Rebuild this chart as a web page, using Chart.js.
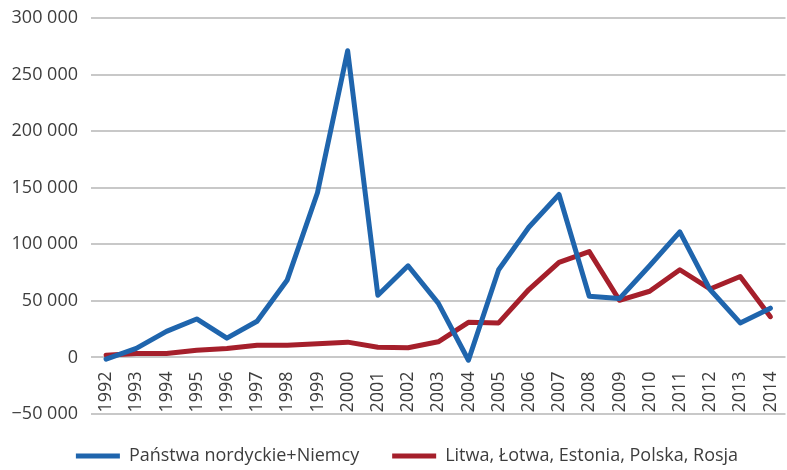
<!DOCTYPE html>
<html>
<head>
<meta charset="utf-8">
<script src="https://cdn.jsdelivr.net/npm/chart.js@4"></script>
<style>
  html, body { margin: 0; padding: 0; background: #fff; overflow: hidden; }
  #wrap { width: 798px; height: 470px; position: relative; }
</style>
</head>
<body>
<div id="wrap"><canvas id="chart"></canvas></div>
<script>
const years = ["1992", "1993", "1994", "1995", "1996", "1997", "1998", "1999", "2000", "2001", "2002", "2003",
  "2004", "2005", "2006", "2007", "2008", "2009", "2010", "2011", "2012", "2013", "2014"];

const nordicData = [-1500, 8000, 23000, 34000, 17000, 32000, 68500, 145500, 271000, 55000, 81000, 48000,
  -2500, 77500, 115000, 144000, 54000, 52000, 81000, 111000, 60000, 30500, 43500];

const balticData = [2000, 3400, 3400, 6400, 7800, 10800, 10800, 12000, 13500, 9000, 8500, 13800,
  31000, 30500, 60000, 84000, 93500, 50500, 58500, 77500, 60500, 71500, 36000];

const nordicLabel = "Państwa nordyckie+Niemcy";
const balticLabel = "Litwa, Łotwa, Estonia, Polska, Rosja";

const textColor = "#3d3d3d";

function fmtThousands(v) {
  const s = Math.abs(v).toString().replace(/\B(?=(\d{3})+(?!\d))/g, " ");
  return (v < 0 ? "\u2212" : "") + s;
}

// legenda: stała wysokość i lekkie przesunięcie w prawo
const legendTweak = {
  id: "legendTweak",
  beforeLayout(chart) {
    const lg = chart.legend;
    if (lg && !lg._patched) {
      const fit = lg.fit;
      lg.fit = function () {
        fit.call(this);
        this.height = 56;
      };
      lg._patched = true;
    }
  },
  afterLayout(chart) {
    const lg = chart.legend;
    if (lg) {
      lg.left += 8;
      lg.right += 8;
    }
  }
};

new Chart(document.getElementById("chart"), {
  type: "line",
  data: {
    labels: years,
    datasets: [
      {
        label: nordicLabel, data: nordicData,
        borderColor: "#1f65ad", backgroundColor: "#1f65ad",
        borderWidth: 5, borderCapStyle: "round", borderJoinStyle: "round",
        tension: 0, pointRadius: 0
      },
      {
        label: balticLabel, data: balticData,
        borderColor: "#a51f2b", backgroundColor: "#a51f2b",
        borderWidth: 5, borderCapStyle: "round", borderJoinStyle: "round",
        tension: 0, pointRadius: 0
      }
    ]
  },
  options: {
    responsive: true,
    maintainAspectRatio: false,
    animation: false,
    layout: { padding: { top: 18, bottom: 0, left: 0, right: 0 } },
    font: { family: "'Open Sans', sans-serif" },
    plugins: {
      tooltip: { enabled: false },
      legend: {
        position: "bottom",
        labels: {
          color: textColor,
          font: { family: "'Open Sans', sans-serif", size: 18 },
          usePointStyle: true,
          pointStyle: "line",
          pointStyleWidth: 44,
          boxHeight: 18,
          padding: 33
        }
      }
    },
    scales: {
      x: {
        position: { y: 0 },
        offset: true,
        grid: { display: false },
        border: { display: false },
        ticks: {
          color: textColor,
          font: { family: "'Open Sans', sans-serif", size: 18 },
          minRotation: 90,
          maxRotation: 90,
          autoSkip: false,
          padding: 6
        }
      },
      y: {
        min: -50000,
        max: 300000,
        afterFit: (s) => { s.width = 91; s.paddingTop = 0; s.paddingBottom = 0; },
        grid: { color: "#c8c8c8", lineWidth: 2, drawTicks: false },
        border: { display: false },
        ticks: {
          stepSize: 50000,
          color: textColor,
          font: { family: "'Open Sans', sans-serif", size: 18 },
          padding: 13,
          callback: (v) => fmtThousands(v)
        }
      }
    }
  },
  plugins: [legendTweak]
});
</script>
</body>
</html>
